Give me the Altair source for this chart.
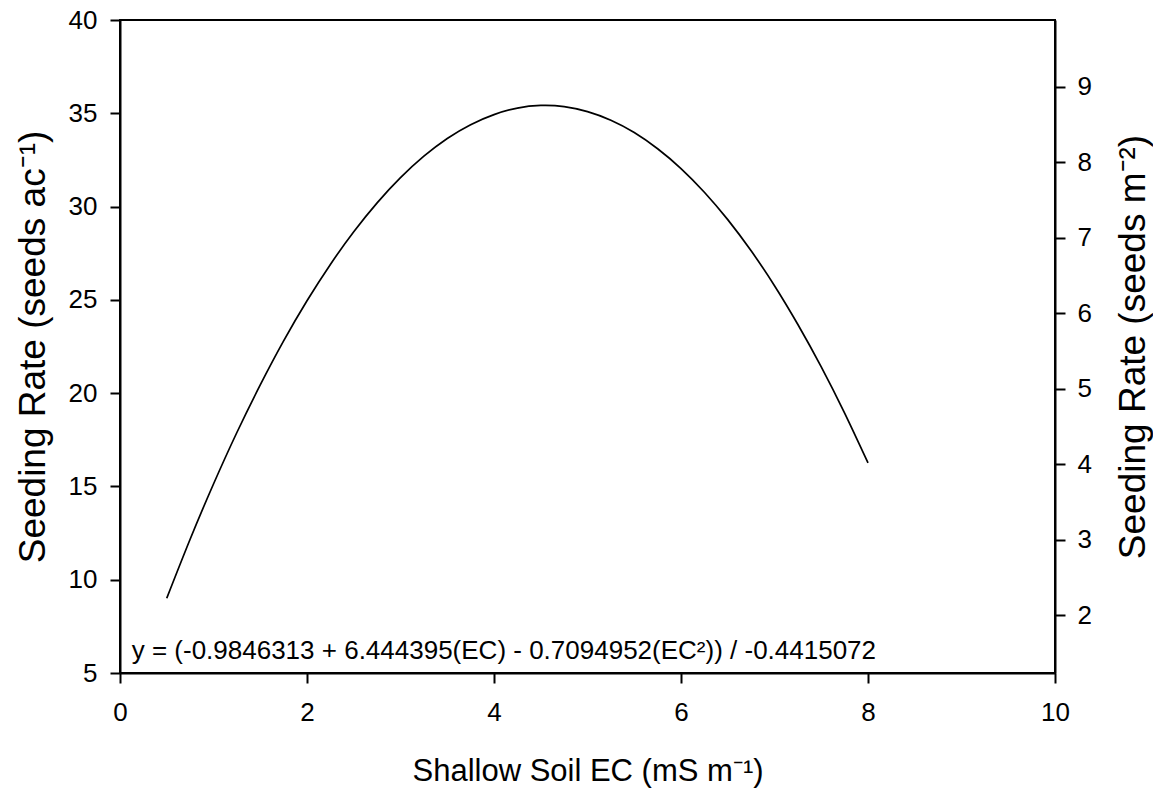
import altair as alt
import pandas as pd

# --- data ---
ec = [0.5, 0.75, 1.0, 1.25, 1.5, 1.75, 2.0, 2.25, 2.5, 2.75, 3.0, 3.25, 3.5, 3.75,
      4.0, 4.25, 4.5, 4.75, 5.0, 5.25, 5.5, 5.75, 6.0, 6.25, 6.5, 6.75, 7.0, 7.25,
      7.5, 7.75, 8.0]
rate_ac = [9.01, 12.17, 15.13, 17.89, 20.44, 22.80, 24.95, 26.90, 28.65, 30.20,
           31.55, 32.70, 33.65, 34.39, 34.93, 35.28, 35.42, 35.36, 35.09, 34.63,
           33.97, 33.10, 32.04, 30.77, 29.30, 27.63, 25.76, 23.68, 21.41, 18.93, 16.26]

x_ticks = [0, 2, 4, 6, 8, 10]
left_ticks = [5, 10, 15, 20, 25, 30, 35, 40]
right_ticks = [2, 3, 4, 5, 6, 7, 8, 9]
x_domain = [0, 10]
left_domain = [5, 40]
right_domain = [1.2355, 9.884]

eq_text = "y = (-0.9846313 + 6.444395(EC) - 0.7094952(EC²)) / -0.4415072"
eq_x = [0.125]
eq_y = [5.76]

x_title = "Shallow Soil EC (mS m⁻¹)"
left_title = "Seeding Rate (seeds ac⁻¹)"
right_title = "Seeding Rate (seeds m⁻²)"

FONT = "Liberation Sans"
W, H = 935, 653

curve_df = pd.DataFrame({"ec": ec, "rate": rate_ac})
text_df = pd.DataFrame({"ec": eq_x, "rate": eq_y, "t": [eq_text]})
right_df = pd.DataFrame({"m2": right_ticks})

common_axis = dict(
    grid=False, labelFont=FONT, titleFont=FONT, labelColor="black", titleColor="black",
    domainColor="black", tickColor="black", domainWidth=2, tickWidth=2, tickSize=10,
    labelFontSize=26, labelFlush=False, labelOverlap=False, titleFontWeight="normal",
)

x_enc = alt.X(
    "ec:Q",
    scale=alt.Scale(domain=x_domain, nice=False, zero=False),
    axis=alt.Axis(
        values=x_ticks, format="d", title=x_title, titleFontSize=31,
        labelBaseline="alphabetic", labelPadding=37,
        titleX=467.5, titleY=107, titleBaseline="alphabetic", titleAlign="center",
        **common_axis,
    ),
)
y_enc = alt.Y(
    "rate:Q",
    scale=alt.Scale(domain=left_domain, nice=False, zero=False),
    axis=alt.Axis(
        orient="left", values=left_ticks, format="d", title=left_title, titleFontSize=37,
        labelPadding=13, titleAngle=270, titleX=-76, titleY=H / 2,
        titleBaseline="alphabetic", titleAlign="center",
        **common_axis,
    ),
)

curve = alt.Chart(curve_df).mark_line(
    color="black", strokeWidth=1.7, interpolate="natural"
).encode(x=x_enc, y=y_enc)
eq = alt.Chart(text_df).mark_text(
    align="left", baseline="alphabetic", fontSize=26, font=FONT, color="black"
).encode(x=x_enc, y=y_enc, text="t:N")

right = alt.Chart(right_df).mark_point(opacity=0).encode(
    y=alt.Y(
        "m2:Q",
        scale=alt.Scale(domain=right_domain, nice=False, zero=False),
        axis=alt.Axis(
            orient="right", values=right_ticks, format="d", title=right_title,
            titleFontSize=37, labelPadding=12, titleAngle=270, titleX=89, titleY=H / 2,
            titleBaseline="alphabetic", titleAlign="center",
            **common_axis,
        ),
    )
)

left = alt.layer(curve, eq)
chart = (
    alt.layer(left, right)
    .resolve_scale(y="independent")
    .properties(
        width=W, height=H,
        autosize=alt.AutoSizeParams(type="none"),
        padding={"left": 112, "top": 12, "right": 98, "bottom": 118},
        background="white",
    )
    .configure_view(stroke="black", strokeWidth=2)
)

chart.save("out.html", embed_options={"renderer": "svg", "actions": False})
